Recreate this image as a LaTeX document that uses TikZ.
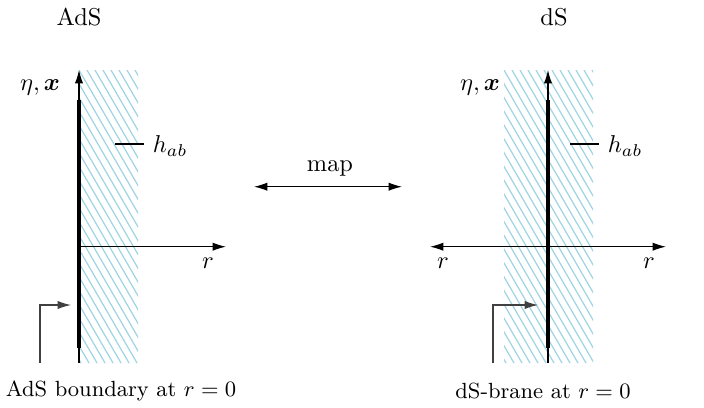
\documentclass[tikz,border=0pt]{standalone}
\usetikzlibrary{arrows.meta}
\usepackage{bm}
\definecolor{hatchblue}{RGB}{160,212,226}
\begin{document}
\begin{tikzpicture}[x=0.41pt,y=-0.41pt,
  tip/.style={},
  axis/.style={line width=0.45pt,-{Latex[length=5.5pt,width=3.4pt]}},
  dblaxis/.style={line width=0.45pt,{Latex[length=5.5pt,width=3.4pt]}-{Latex[length=5.5pt,width=3.4pt]}},
  brane/.style={line width=1.7pt},
  pointer/.style={line width=0.45pt,draw=black!75,-{Latex[length=5.5pt,width=3.4pt]}},
  hatch/.style={line width=0.5pt,draw=hatchblue},
  lbl/.style={inner sep=1pt}]
\useasboundingbox (0,0) rectangle (704,407);

% ---------- left (AdS) ----------
\begin{scope}
\clip (79,70) rectangle (138,363);
\foreach \i in {-25,...,10} {
  \draw[hatch] (79+8*\i,70) -- ++(170,293);
}
\end{scope}
\coordinate (Lbot) at (79,363);
\coordinate (Ltop) at (79,70);
\coordinate (Lo) at (79,246.7);
\coordinate (Lr) at (226,246.7);
\coordinate (Lb1) at (79,100);
\coordinate (Lb2) at (79,348);
\draw[axis] (Lbot) -- (Ltop);
\draw[axis] (Lo) -- (Lr);
\draw[brane] (Lb1) -- (Lb2);
\node[lbl] (Leta) at (40,87) {$\eta,\bm{x}$};
\node[lbl] (Lrl) at (208,263) {$r$};
\coordinate (Lh1) at (115,144);
\coordinate (Lh2) at (144,144);
\draw[line width=0.45pt] (Lh1) -- (Lh2);
\node[lbl,anchor=west] (Lhab) at (150,146) {$h_{ab}$};
\coordinate (Lp1) at (40,363);
\coordinate (Lp2) at (40,305);
\coordinate (Lp3) at (71,305);
\draw[pointer] (Lp1) -- (Lp2) -- (Lp3);
\node[lbl] (Ltitle) at (79,17) {AdS};
\node[lbl,font=\small] (Lcap) at (121,391) {AdS boundary at $r=0$};

% ---------- map ----------
\coordinate (M1) at (254,186.7);
\coordinate (M2) at (402,186.7);
\draw[dblaxis] (M1) -- (M2);
\node[lbl] (Mlbl) at (330,168) {map};

% ---------- right (dS) ----------
\begin{scope}
\clip (504,70) rectangle (593,363);
\foreach \i in {-25,...,15} {
  \draw[hatch] (504+8*\i,70) -- ++(170,293);
}
\end{scope}
\coordinate (Rbot) at (548,363);
\coordinate (Rtop) at (548,70);
\coordinate (Rl) at (430,246.7);
\coordinate (Rr) at (666,246.7);
\coordinate (Rb1) at (548,100);
\coordinate (Rb2) at (548,348);
\draw[axis] (Rbot) -- (Rtop);
\draw[dblaxis] (Rl) -- (Rr);
\draw[brane] (Rb1) -- (Rb2);
\node[lbl] (Reta) at (480,87) {$\eta,\bm{x}$};
\node[lbl] (Rrl1) at (443,263) {$r$};
\node[lbl] (Rrl2) at (649,263) {$r$};
\coordinate (Rh1) at (570,144);
\coordinate (Rh2) at (599,144);
\draw[line width=0.45pt] (Rh1) -- (Rh2);
\node[lbl,anchor=west] (Rhab) at (605,146) {$h_{ab}$};
\coordinate (Rp1) at (493,363);
\coordinate (Rp2) at (493,305);
\coordinate (Rp3) at (538,305);
\draw[pointer] (Rp1) -- (Rp2) -- (Rp3);
\node[lbl] (Rtitle) at (554,17) {dS};
\node[lbl,font=\small] (Rcap) at (543,391) {dS-brane at $r=0$};
\end{tikzpicture}
\end{document}
